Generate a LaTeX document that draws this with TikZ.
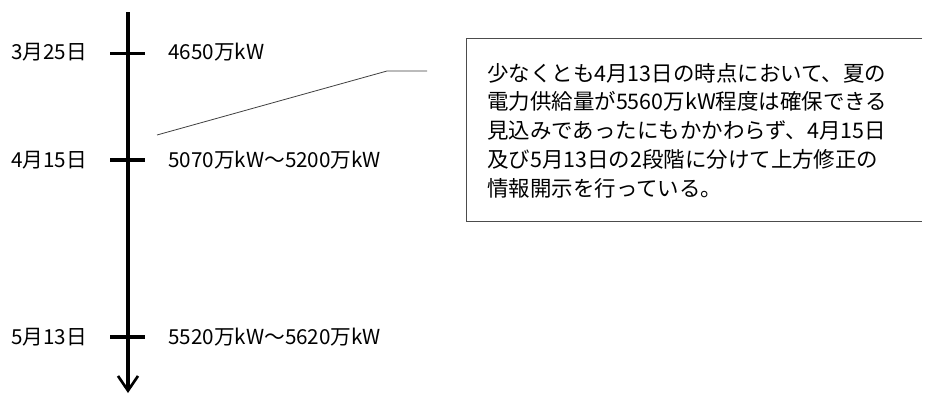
\documentclass[tikz,border=0pt]{standalone}
\usepackage{fontspec}
\setmainfont{Noto Sans CJK JP}
\usetikzlibrary{arrows.meta}
\tikzset{
  axisline/.style={line width=2.4pt, -{Straight Barb[length=11pt,width=15pt,line width=2pt]}},
  tickline/.style={line width=2.4pt},
  leaderline/.style={line width=0.6pt, black!75},
  lbl/.style={inner sep=0pt, anchor=base west, font=\fontsize{15.5}{18}\selectfont},
  boxtxt/.style={inner sep=0pt, anchor=base west, font=\fontsize{16.1}{18}\selectfont},
  boxframe/.style={draw=black!70, line width=0.75pt}
}
\begin{document}
\begin{tikzpicture}[x=0.75pt,y=-0.75pt]
\useasboundingbox[fill=white] (0,0) rectangle (925,396);
% timeline
\coordinate (atop) at (128,12);
\coordinate (abot) at (128,393);
\draw[axisline] (atop) -- (abot);
\coordinate (t1a) at (110,53.5); \coordinate (t1b) at (145,53.5);
\coordinate (t2a) at (110,160);  \coordinate (t2b) at (145,160);
\coordinate (t3a) at (110,337);  \coordinate (t3b) at (145,337);
\draw[tickline] (t1a) -- (t1b);
\draw[tickline] (t2a) -- (t2b);
\draw[tickline] (t3a) -- (t3b);
% dates
\node[lbl] (d1) at (11,60) {3月25日};
\node[lbl] (d2) at (11,167) {4月15日};
\node[lbl] (d3) at (11,344) {5月13日};
% values
\node[lbl] (v1) at (168,60) {4650万kW};
\node[lbl] (v2) at (168,167) {5070万kW～5200万kW};
\node[lbl] (v3) at (168,344) {5520万kW～5620万kW};
% leader
\coordinate (ls) at (157,135);
\coordinate (lb) at (387,71);
\coordinate (le) at (427,71);
\draw[leaderline] (ls) -- (lb) -- (le);
% box (right side runs off the picture)
\coordinate (bx1) at (922,38);
\coordinate (bx2) at (466,38);
\coordinate (bx3) at (466,221);
\coordinate (bx4) at (922,221);
\draw[boxframe] (bx1) -- (bx2) -- (bx3) -- (bx4);
\node[boxtxt] (l1) at (487,81)     {少なくとも4月13日の時点において、夏の};
\node[boxtxt] (l2) at (487,109.75) {電力供給量が5560万kW程度は確保できる};
\node[boxtxt] (l3) at (487,138.5)  {見込みであったにもかかわらず、4月15日};
\node[boxtxt] (l4) at (487,167.25) {及び5月13日の2段階に分けて上方修正の};
\node[boxtxt] (l5) at (487,196)    {情報開示を行っている。};
\end{tikzpicture}
\end{document}
